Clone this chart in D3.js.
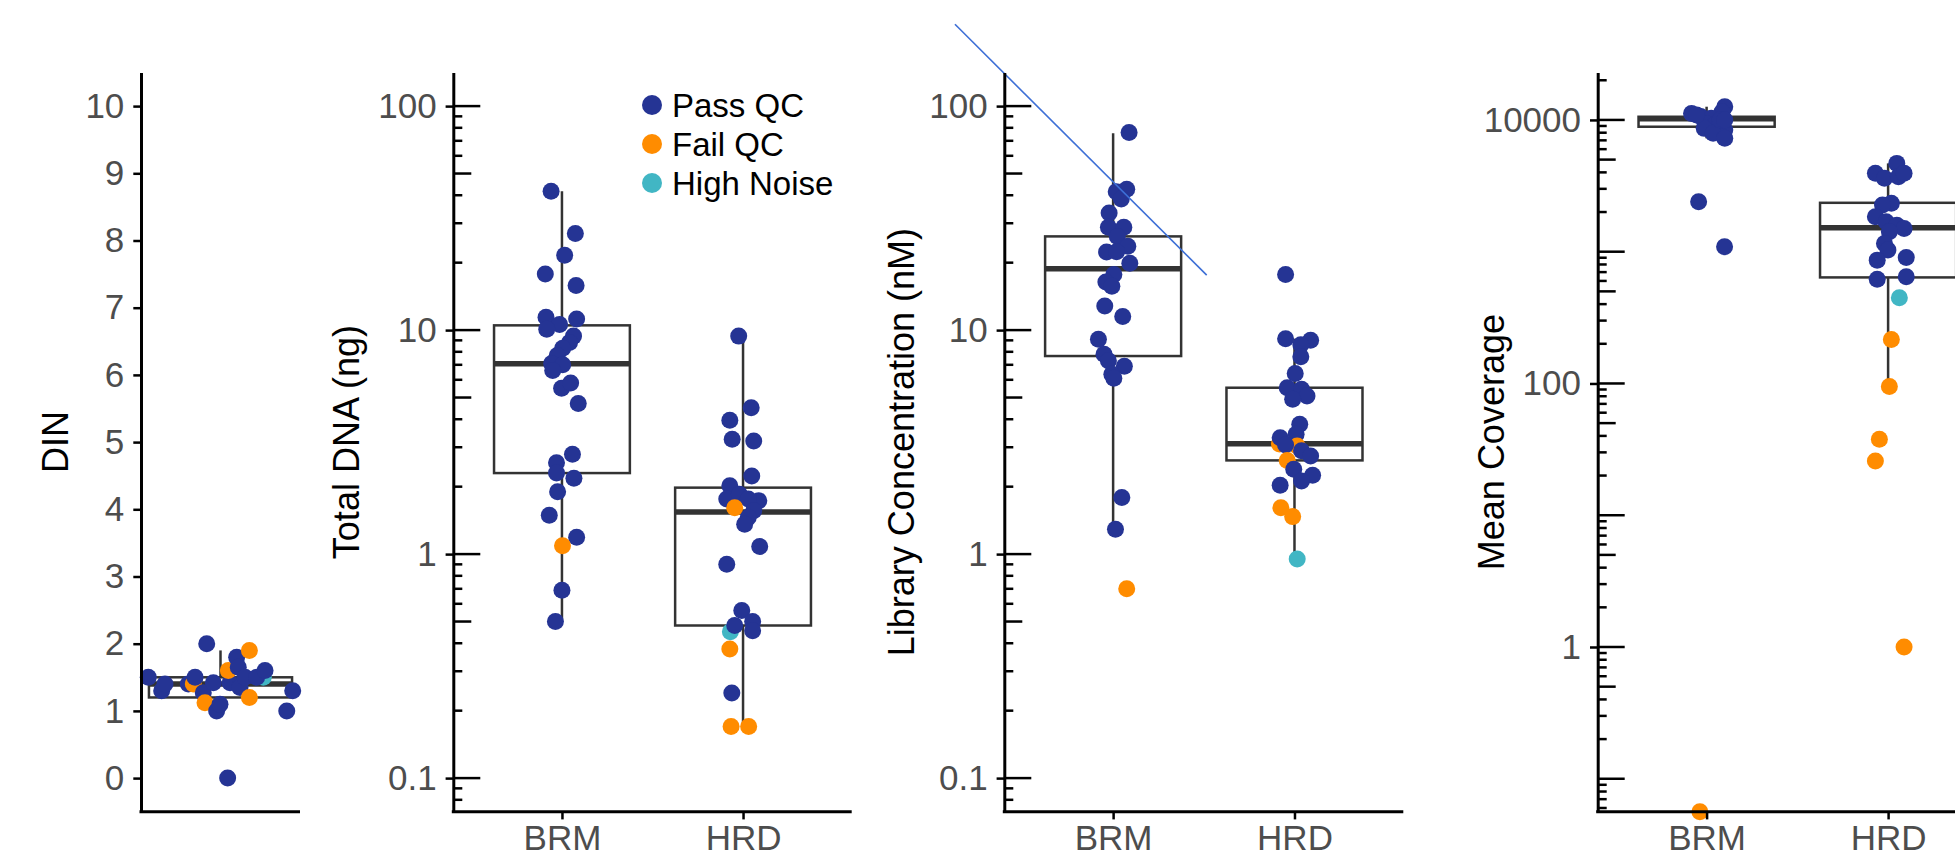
<!DOCTYPE html>
<html lang="en">
<head>
<meta charset="UTF-8" />
<title>QC metrics</title>
<script src="https://cdn.jsdelivr.net/npm/d3@7"></script>
<style>
  body { margin: 0; background: #fff; }
  text { font-family: "Liberation Sans", Arial, Helvetica, sans-serif; }
</style>
</head>
<body>
<script>
// ---- data ----
const categories = ["BRM", "HRD"];
const statusNames = ["Pass QC", "Fail QC", "High Noise"];
const statusColors = ["#253494", "#ff8c00", "#41b6c4"];

const dinTicks = [0, 1, 2, 3, 4, 5, 6, 7, 8, 9, 10];
const logTicks = [0.1, 1, 10, 100];
const coverageTicks = [1, 100, 10000];

// DIN: [value, status index, jitter]
const dinPoints = [
  [1.5, 0, -0.545], [1.3, 0, -0.444], [1.4, 0, -0.419], [1.4, 0, -0.243],
  [1.4, 1, -0.205], [1.5, 0, -0.192], [2.0, 0, -0.104], [1.27, 0, -0.13],
  [1.12, 1, -0.117], [1.42, 0, -0.054], [1.0, 0, -0.029], [1.1, 0, -0.004],
  [0, 0, 0.054], [1.42, 0, 0.072], [1.6, 1, 0.059], [1.8, 0, 0.122],
  [1.65, 0, 0.134], [1.35, 0, 0.147], [1.5, 0, 0.185], [1.9, 1, 0.218],
  [1.2, 1, 0.218], [1.5, 2, 0.323], [1.5, 0, 0.273], [1.6, 0, 0.336],
  [1.0, 0, 0.5], [1.3, 0, 0.545]
];
// box: [low whisker, q1, median, q3, high whisker]
const dinBox = [1.0, 1.2, 1.4, 1.5, 1.9];

// [category, value, status index, jitter]
const dnaPoints = [
  ["BRM", 41.7, 0, -0.06], ["BRM", 27, 0, 0.074], ["BRM", 21.6, 0, 0.015],
  ["BRM", 17.8, 0, -0.092], ["BRM", 15.8, 0, 0.078], ["BRM", 11.4, 0, -0.088],
  ["BRM", 10.6, 0, -0.013], ["BRM", 11.2, 0, 0.081], ["BRM", 10.1, 0, -0.084],
  ["BRM", 9.4, 0, 0.064], ["BRM", 8.8, 0, 0.042], ["BRM", 8.3, 0, 0.004],
  ["BRM", 7.7, 0, -0.026], ["BRM", 7.1, 0, -0.057], ["BRM", 7.0, 0, 0.004],
  ["BRM", 6.6, 0, -0.051], ["BRM", 5.5, 0, -0.002], ["BRM", 5.8, 0, 0.048],
  ["BRM", 4.7, 0, 0.09], ["BRM", 2.79, 0, 0.058], ["BRM", 2.56, 0, -0.03],
  ["BRM", 2.3, 0, -0.03], ["BRM", 2.18, 0, 0.066], ["BRM", 1.9, 0, -0.024],
  ["BRM", 1.49, 0, -0.07], ["BRM", 1.19, 0, 0.081], ["BRM", 1.09, 1, 0.003],
  ["BRM", 0.69, 0, 0], ["BRM", 0.5, 0, -0.036],
  ["HRD", 9.4, 0, -0.024], ["HRD", 4.5, 0, 0.045], ["HRD", 3.96, 0, -0.073],
  ["HRD", 3.26, 0, -0.06], ["HRD", 3.2, 0, 0.059], ["HRD", 2.23, 0, 0.048],
  ["HRD", 2.02, 0, -0.073], ["HRD", 1.76, 0, -0.09], ["HRD", 1.85, 0, -0.02],
  ["HRD", 1.73, 0, 0.087], ["HRD", 1.76, 0, 0.029], ["HRD", 1.56, 0, 0.059],
  ["HRD", 1.46, 0, 0.029], ["HRD", 1.36, 0, 0.009], ["HRD", 1.61, 1, -0.046],
  ["HRD", 1.08, 0, 0.092], ["HRD", 0.9, 0, -0.09], ["HRD", 0.45, 2, -0.07],
  ["HRD", 0.56, 0, -0.007], ["HRD", 0.48, 0, -0.046], ["HRD", 0.5, 0, 0.053],
  ["HRD", 0.455, 0, 0.053], ["HRD", 0.377, 1, -0.073], ["HRD", 0.24, 0, -0.062],
  ["HRD", 0.17, 1, -0.066], ["HRD", 0.17, 1, 0.031]
];
const dnaBoxes = [
  ["BRM", 0.5, 2.3, 7.08, 10.5, 41.7],
  ["HRD", 0.17, 0.48, 1.54, 1.98, 9.4]
];

const libPoints = [
  ["BRM", 76.3, 0, 0.088], ["BRM", 41.5, 0, 0.017], ["BRM", 42.5, 0, 0.075],
  ["BRM", 38.5, 0, 0.045], ["BRM", 33.3, 0, -0.022], ["BRM", 28.8, 0, -0.026],
  ["BRM", 28.8, 0, 0.059], ["BRM", 26.2, 0, 0.023], ["BRM", 23.7, 0, 0.081],
  ["BRM", 22.3, 0, -0.036], ["BRM", 22.4, 0, 0.019], ["BRM", 19.9, 0, 0.092],
  ["BRM", 17.7, 0, 0.004], ["BRM", 16.4, 0, -0.04], ["BRM", 15.7, 0, -0.007],
  ["BRM", 12.8, 0, -0.046], ["BRM", 11.5, 0, 0.053], ["BRM", 9.1, 0, -0.081],
  ["BRM", 7.8, 0, -0.05], ["BRM", 7.3, 0, -0.026], ["BRM", 6.9, 0, 0.062],
  ["BRM", 6.35, 0, -0.007], ["BRM", 6.1, 0, 0.004], ["BRM", 1.79, 0, 0.048],
  ["BRM", 1.29, 0, 0.013], ["BRM", 0.7, 1, 0.075],
  ["HRD", 17.7, 0, -0.049], ["HRD", 9.15, 0, -0.049], ["HRD", 9.0, 0, 0.089],
  ["HRD", 8.6, 0, 0.035], ["HRD", 7.6, 0, 0.035], ["HRD", 6.4, 0, 0.004],
  ["HRD", 5.53, 0, -0.04], ["HRD", 5.44, 0, 0.039], ["HRD", 5.08, 0, 0.069],
  ["HRD", 4.91, 0, -0.01], ["HRD", 3.8, 0, 0.029], ["HRD", 3.1, 1, -0.083],
  ["HRD", 3.31, 0, -0.079], ["HRD", 3.43, 0, 0.009], ["HRD", 3.04, 1, 0.015],
  ["HRD", 3.07, 0, -0.049], ["HRD", 2.89, 0, 0.039], ["HRD", 2.74, 0, 0.089],
  ["HRD", 2.62, 1, -0.04], ["HRD", 2.39, 0, -0.004], ["HRD", 2.25, 0, 0.1],
  ["HRD", 2.12, 0, 0.039], ["HRD", 2.03, 0, -0.079], ["HRD", 1.61, 1, -0.075],
  ["HRD", 1.47, 1, -0.01], ["HRD", 0.95, 2, 0.015]
];
const libBoxes = [
  ["BRM", 1.29, 7.66, 18.8, 26.2, 75.6],
  ["HRD", 0.95, 2.62, 3.11, 5.53, 9.15]
];
// stray guide line on the library panel: [x in category units, value]
const libGuide = [[0.128, 232], [1.516, 17.6]];

// value 0 means the point sits on the lower panel edge
const covPoints = [
  ["BRM", 11200, 0, -0.083], ["BRM", 12600, 0, 0.1], ["BRM", 11500, 0, 0.085],
  ["BRM", 10600, 0, -0.033], ["BRM", 10300, 0, 0.026], ["BRM", 9400, 0, -0.003],
  ["BRM", 9150, 0, 0.044], ["BRM", 8380, 0, 0.1], ["BRM", 8630, 0, -0.013],
  ["BRM", 7910, 0, 0.036], ["BRM", 7250, 0, 0.1], ["BRM", 10900, 0, -0.055],
  ["BRM", 10000, 0, 0.075], ["BRM", 10000, 0, 0.1], ["BRM", 2390, 0, -0.044],
  ["BRM", 1090, 0, 0.099], ["BRM", 0, 1, -0.037],
  ["HRD", 4680, 0, 0.048], ["HRD", 3935, 0, -0.07], ["HRD", 3605, 0, -0.02],
  ["HRD", 3705, 0, 0.057], ["HRD", 3935, 0, 0.088], ["HRD", 2330, 0, 0.018],
  ["HRD", 2260, 0, -0.031], ["HRD", 1840, 0, -0.07], ["HRD", 1690, 0, -0.011],
  ["HRD", 1590, 0, 0.048], ["HRD", 1500, 0, 0.088], ["HRD", 1420, 0, 0.007],
  ["HRD", 1155, 0, -0.02], ["HRD", 1030, 0, -0.001], ["HRD", 863, 0, -0.06],
  ["HRD", 905, 0, 0.1], ["HRD", 617, 0, -0.06], ["HRD", 645, 0, 0.1],
  ["HRD", 447, 2, 0.062], ["HRD", 216, 1, 0.018], ["HRD", 95, 1, 0.007],
  ["HRD", 37.8, 1, -0.048], ["HRD", 25.8, 1, -0.07], ["HRD", 1.0, 1, 0.088]
];
const covBoxes = [
  ["BRM", 7250, 8880, 10200, 10570, 12600],
  ["HRD", 95, 638, 1520, 2350, 4680]
];

// ---- layout ----
const W = 1955, H = 856;
const yTop = 72.5, yBottom = 811.7;
const fontTick = 35, fontTitle = 36;
const tickLen = 7.7;

const svg = d3.select("body").append("svg")
  .attr("width", W).attr("height", H);

function yAxis(g, y, ticks) {
  const ax = d3.axisLeft(y).tickValues(ticks).tickSize(tickLen).tickSizeOuter(0)
    .tickPadding(9).tickFormat(d => String(d));
  g.call(ax);
  g.select(".domain").attr("stroke", "#000").attr("stroke-width", 3);
  g.selectAll(".tick line").attr("stroke", "#000").attr("stroke-width", 2.5);
  g.selectAll(".tick text").attr("fill", "#4d4d4d").attr("font-size", fontTick)
    .attr("font-family", null);
}

function logTicksInside(g, y, x0) {
  const [lo, hi] = y.domain();
  const vals = [];
  for (let e = Math.floor(Math.log10(lo)); e <= Math.ceil(Math.log10(hi)); e++) {
    for (let k = 1; k <= 9; k++) {
      const v = k * Math.pow(10, e);
      if (v >= lo && v <= hi) vals.push([v, k]);
    }
  }
  g.selectAll("line.lt").data(vals).join("line")
    .attr("class", "lt")
    .attr("x1", x0).attr("x2", d => x0 + (d[1] === 1 ? 27 : d[1] === 5 ? 18 : 9))
    .attr("y1", d => y(d[0])).attr("y2", d => y(d[0]))
    .attr("stroke", "#000").attr("stroke-width", 2.5);
}

function xAxisLine(g, x0, x1) {
  g.append("line").attr("x1", x0 - 1.5).attr("x2", x1)
    .attr("y1", yBottom).attr("y2", yBottom)
    .attr("stroke", "#000").attr("stroke-width", 3);
}

function title(text, bx) {
  svg.append("text")
    .attr("transform", `translate(${bx},${(yTop + yBottom) / 2}) rotate(-90)`)
    .attr("text-anchor", "middle")
    .attr("font-size", fontTitle)
    .attr("fill", "#000")
    .text(text);
}

function yPos(y, v) {
  return v > 0 ? y(v) : y.range()[0];
}

function drawBox(g, cx, halfW, y, b) {
  const [lo, q1, med, q3, hi] = b;
  g.append("line").attr("x1", cx).attr("x2", cx)
    .attr("y1", yPos(y, lo)).attr("y2", yPos(y, hi))
    .attr("stroke", "#333").attr("stroke-width", 2.5);
  g.append("rect")
    .attr("x", cx - halfW).attr("width", 2 * halfW)
    .attr("y", y(q3)).attr("height", y(q1) - y(q3))
    .attr("fill", "#fff").attr("stroke", "#333").attr("stroke-width", 2.5);
  g.append("line").attr("x1", cx - halfW).attr("x2", cx + halfW)
    .attr("y1", y(med)).attr("y2", y(med))
    .attr("stroke", "#333").attr("stroke-width", 5.5);
}

// ---- panel 1: DIN ----
{
  const x0 = 141, x1 = 300;
  const x = d3.scalePoint().domain(["all"]).range([x0, x1]).padding(0.6);
  const y = d3.scaleLinear().domain([-0.5, 10.5]).range([yBottom, yTop]);
  const g = svg.append("g");
  drawBox(g, x("all"), 0.54 * x.step(), y, dinBox);
  g.selectAll("circle").data(dinPoints).join("circle")
    .attr("cx", d => x("all") + d[2] * x.step())
    .attr("cy", d => y(d[0]))
    .attr("r", 8.5)
    .attr("fill", d => statusColors[d[1]]);
  const ga = g.append("g").attr("transform", `translate(${x0},0)`);
  yAxis(ga, y, dinTicks);
  xAxisLine(g, x0, x1);
  title("DIN", 68);
}

// ---- panels 2-4: BRM vs HRD ----
function catPanel(opt) {
  const x = d3.scalePoint().domain(categories).range([opt.x0, opt.x1]).padding(0.6);
  const xl = d3.scaleLinear().domain([0.4, 2.6]).range([opt.x0, opt.x1]);
  const y = d3.scaleLog().domain(opt.domain).range([yBottom, yTop]);
  const g = svg.append("g");
  opt.boxes.forEach(b => drawBox(g, x(b[0]), 0.375 * x.step(), y, b.slice(1)));
  g.append("g").selectAll("circle").data(opt.points).join("circle")
    .attr("cx", d => x(d[0]) + d[3] * x.step())
    .attr("cy", d => yPos(y, d[1]))
    .attr("r", 8.5)
    .attr("fill", d => statusColors[d[2]]);
  if (opt.guide) {
    g.append("path")
      .attr("d", d3.line().x(d => xl(d[0])).y(d => y(d[1]))(opt.guide))
      .attr("fill", "none").attr("stroke", "#3d6fd6").attr("stroke-width", 1.6);
  }
  const ga = g.append("g").attr("transform", `translate(${opt.x0},0)`);
  yAxis(ga, y, opt.ticks);
  logTicksInside(g, y, opt.x0);
  const gx = g.append("g").attr("transform", `translate(0,${yBottom})`);
  gx.call(d3.axisBottom(x).tickSize(tickLen).tickSizeOuter(0).tickPadding(6));
  gx.select(".domain").remove();
  gx.selectAll(".tick line").attr("stroke", "#000").attr("stroke-width", 2.5);
  gx.selectAll(".tick text").attr("fill", "#4d4d4d").attr("font-size", fontTick)
    .attr("font-family", null);
  xAxisLine(g, opt.x0, opt.x1);
  title(opt.title, opt.titleX);
  return g;
}

catPanel({
  x0: 453.3, x1: 851.7, domain: [Math.pow(10, -1.15), Math.pow(10, 2.15)],
  ticks: logTicks, boxes: dnaBoxes, points: dnaPoints,
  title: "Total DNA (ng)", titleX: 359
});

catPanel({
  x0: 1004.3, x1: 1403.3, domain: [Math.pow(10, -1.15), Math.pow(10, 2.15)],
  ticks: logTicks, boxes: libBoxes, points: libPoints, guide: libGuide,
  title: "Library Concentration (nM)", titleX: 914
});

catPanel({
  x0: 1597.7, x1: 1997, domain: [Math.pow(10, -1.25), Math.pow(10, 4.36)],
  ticks: coverageTicks, boxes: covBoxes, points: covPoints,
  title: "Mean Coverage", titleX: 1504
});

// ---- legend ----
const legend = svg.append("g").attr("transform", "translate(652,105)");
statusNames.forEach((name, i) => {
  legend.append("circle").attr("cx", 0).attr("cy", i * 39).attr("r", 10)
    .attr("fill", statusColors[i]);
  legend.append("text").attr("x", 20).attr("y", i * 39).attr("dy", "0.35em")
    .attr("font-size", 33).attr("fill", "#000").text(name);
});
</script>
</body>
</html>
